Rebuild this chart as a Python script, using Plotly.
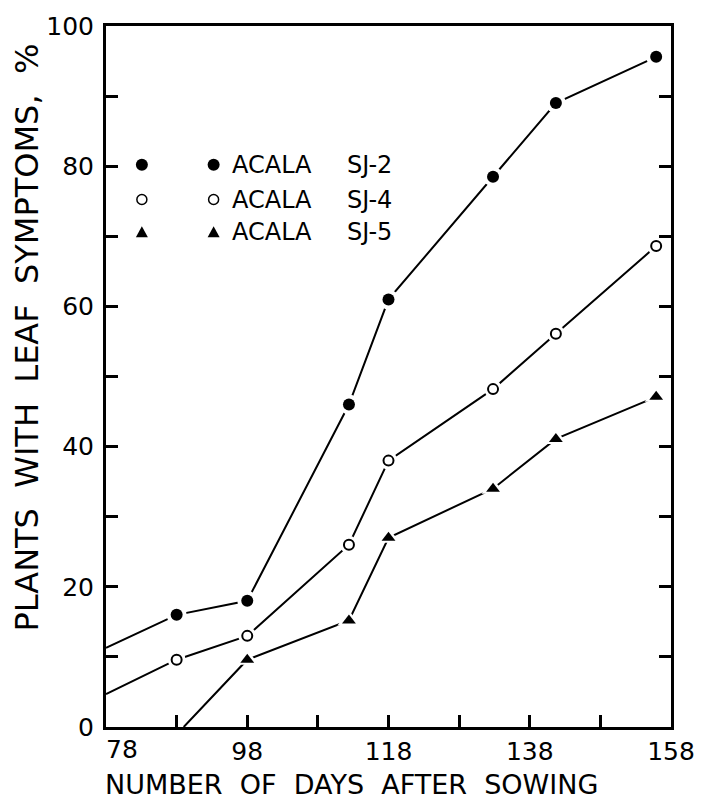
import plotly.graph_objects as go

# ---- data ----
days = [88, 98, 112.4, 118, 132.8, 141.7, 155.9]
sj2 = [16.0, 18.0, 46.0, 61.0, 78.5, 89.0, 95.6]
sj4 = [9.6, 13.0, 26.0, 38.0, 48.2, 56.1, 68.6]
days_sj5 = [98, 112.4, 118, 132.8, 141.7, 155.9]
sj5 = [9.6, 15.2, 27.0, 34.0, 41.1, 47.1]
# extrapolated line starts drawn in the figure (no marker)
sj2_start = (78, 11.3)
sj4_start = (78, 4.7)
sj5_start = (89, 0.0)

x_ticks = [78, 88, 98, 108, 118, 128, 138, 148, 158]
x_ticktext = ["", "", "98", "", "118", "", "138", "", "158"]
first_x_label = "78"
y_ticks = [0, 10, 20, 30, 40, 50, 60, 70, 80, 90, 100]
y_ticktext = ["0", "", "20", "", "40", "", "60", "", "80", "", "100"]
labels = ["ACALA", "ACALA", "ACALA"]
names = ["SJ-2", "SJ-4", "SJ-5"]

FONT = "DejaVu Sans"
fig = go.Figure()

series = [
    ([sj2_start[0]] + days, [sj2_start[1]] + sj2, days, sj2, "circle", "black", 12),
    ([sj4_start[0]] + days, [sj4_start[1]] + sj4, days, sj4, "circle", "white", 10),
    ([sj5_start[0]] + days_sj5, [sj5_start[1]] + sj5, days_sj5, sj5, "triangle-up", "black", 12),
]
for lx, ly, *_ in series:
    fig.add_trace(go.Scatter(x=lx, y=ly, mode="lines", line=dict(color="black", width=2),
                             showlegend=False, hoverinfo="skip"))
for _, _, mx, my, sym, fill, sz in series:
    fig.add_trace(go.Scatter(x=mx, y=my, mode="markers",
                             marker=dict(symbol=sym, size=sz + 8, color="white", line=dict(width=0)),
                             showlegend=False, hoverinfo="skip"))
for _, _, mx, my, sym, fill, sz in series:
    fig.add_trace(go.Scatter(x=mx, y=my, mode="markers",
                             marker=dict(symbol=sym, size=sz, color=fill,
                                         line=dict(color="black", width=2 if fill == "white" else 0)),
                             showlegend=False))

# ---- legend drawn manually ----
L, R, T, B = 106, 673, 20, 727
W, H = 707, 810
def px(xp):
    return (xp - L) / (R - L)
def py(yp):
    return (B - yp) / (B - T)

rows_y = [160, 195, 228]
syms = ["fill", "open", "tri"]
shapes = []
annotations = []
for ry, s, lab, nm in zip(rows_y, syms, labels, names):
    for cx in (142, 214):
        if s == "tri":
            shapes.append(dict(type="path", xref="paper", yref="paper", xsizemode="pixel", ysizemode="pixel",
                               xanchor=px(cx), yanchor=py(ry),
                               path="M -6 -5 L 6 -5 L 0 6 Z", fillcolor="black", line=dict(width=0)))
        else:
            r = 6 if s == "fill" else 5
            shapes.append(dict(type="circle", xref="paper", yref="paper", xsizemode="pixel", ysizemode="pixel",
                               xanchor=px(cx), yanchor=py(ry), x0=-r, x1=r, y0=-r, y1=r,
                               fillcolor="black" if s == "fill" else "white",
                               line=dict(color="black", width=0 if s == "fill" else 1.5)))
    annotations.append(dict(text=lab, xref="paper", yref="paper", x=px(230), y=py(ry), xanchor="left",
                            yanchor="middle", showarrow=False, font=dict(family=FONT, size=24, color="black")))
    annotations.append(dict(text=nm, xref="paper", yref="paper", x=px(346), y=py(ry), xanchor="left",
                            yanchor="middle", showarrow=False, font=dict(family=FONT, size=24, color="black")))

annotations.append(dict(text=first_x_label, xref="paper", yref="paper", x=px(104), y=py(750),
                        xanchor="left", yanchor="middle", showarrow=False,
                        font=dict(family=FONT, size=25, color="black")))
annotations.append(dict(text="NUMBER  OF  DAYS  AFTER  SOWING", xref="paper", yref="paper",
                        x=px(352), y=py(785), xanchor="center", yanchor="middle", showarrow=False,
                        font=dict(family=FONT, size=27, color="black")))
annotations.append(dict(text="PLANTS  WITH  LEAF  SYMPTOMS,  %", xref="paper", yref="paper",
                        x=px(27), y=py(334), xanchor="center", yanchor="middle", showarrow=False,
                        textangle=-90, font=dict(family=FONT, size=32, color="black")))

fig.update_layout(
    width=W, height=H,
    margin=dict(l=L, r=W - R, t=T, b=H - B),
    plot_bgcolor="white", paper_bgcolor="white",
    shapes=shapes, annotations=annotations,
    showlegend=False,
)
fig.update_xaxes(range=[78, 158], tickvals=x_ticks, ticktext=x_ticktext, ticks="inside", ticklen=12,
                 tickwidth=2.5, tickcolor="black", showline=True, linewidth=3, linecolor="black",
                 mirror=True, showgrid=False, zeroline=False,
                 tickfont=dict(family=FONT, size=25, color="black"))
fig.update_yaxes(range=[0, 100], tickvals=y_ticks, ticktext=y_ticktext, ticks="inside", ticklen=12,
                 tickwidth=2.5, tickcolor="black", showline=True, linewidth=3, linecolor="black",
                 mirror="ticks", showgrid=False, zeroline=False, ticklabelstandoff=4,
                 tickfont=dict(family=FONT, size=25, color="black"))

fig.write_html("out.html")
